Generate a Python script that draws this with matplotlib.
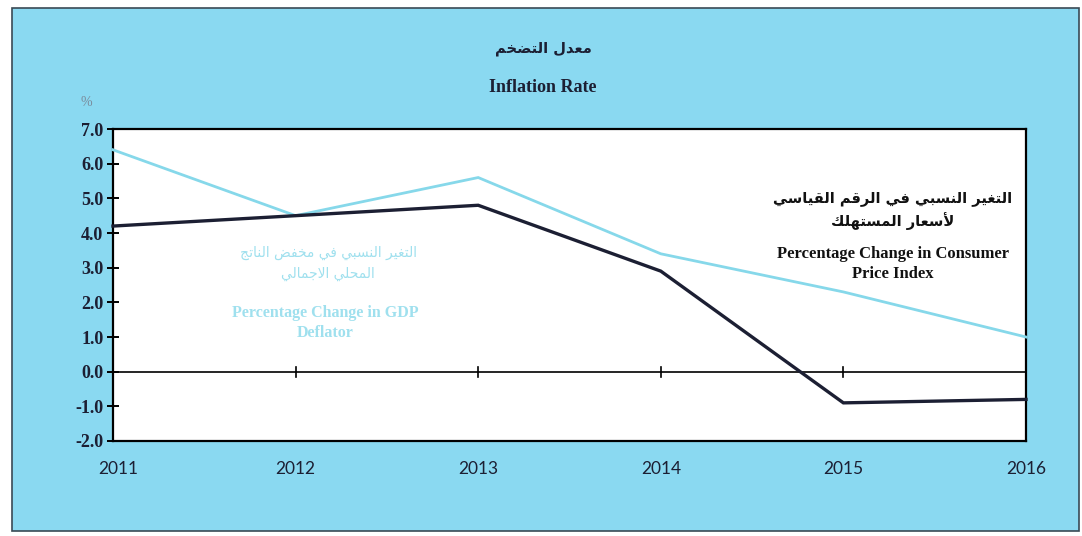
import matplotlib
matplotlib.use("Agg")
import matplotlib.pyplot as plt
from matplotlib.patches import Rectangle

# ---------------- data ----------------
years = [2011, 2012, 2013, 2014, 2015, 2016]
gdp_deflator = [6.4, 4.5, 5.6, 3.4, 2.3, 1.0]
cpi = [4.2, 4.5, 4.8, 2.9, -0.9, -0.8]
y_ticks = [-2.0, -1.0, 0.0, 1.0, 2.0, 3.0, 4.0, 5.0, 6.0, 7.0]
x_labels = ["2011", "2012", "2013", "2014", "2015", "2016"]

title_ar = "معدل التضخم"
title_en = "Inflation Rate"
gdp_label_ar = ["التغير النسبي في مخفض الناتج", "المحلي الاجمالي"]
gdp_label_en = "Percentage Change in GDP\nDeflator"
cpi_label_ar = ["التغير النسبي في الرقم القياسي", "لأسعار المستهلك"]
cpi_label_en = "Percentage Change in Consumer\nPrice Index"

# ------------- minimal Arabic shaping (presentation forms, visual order) -------------
DUAL = {
    'ب': 0xFE8F, 'ت': 0xFE95, 'ج': 0xFE9D, 'ح': 0xFEA1, 'خ': 0xFEA5,
    'س': 0xFEB1, 'ض': 0xFEBD, 'ع': 0xFEC9, 'غ': 0xFECD, 'ف': 0xFED1,
    'ق': 0xFED5, 'ك': 0xFED9, 'ل': 0xFEDD, 'م': 0xFEE1, 'ن': 0xFEE5,
    'ه': 0xFEE9, 'ي': 0xFEF1,
}
RIGHT = {'ا': 0xFE8D, 'أ': 0xFE83, 'د': 0xFEA9, 'ر': 0xFEAD}
LAMALEF = {'ا': (0xFEFB, 0xFEFC), 'أ': (0xFEF7, 0xFEF8)}


def is_letter(c):
    return c in DUAL or c in RIGHT


def shape(text):
    out = []
    chars = list(text)
    i = 0
    n = len(chars)
    while i < n:
        c = chars[i]
        prev = chars[i - 1] if i > 0 else ''
        joins_prev = prev in DUAL
        if c == 'ل' and i + 1 < n and chars[i + 1] in LAMALEF:
            iso, fin = LAMALEF[chars[i + 1]]
            out.append(chr(fin if joins_prev else iso))
            i += 2
            continue
        nxt = chars[i + 1] if i + 1 < n else ''
        if c in DUAL:
            base = DUAL[c]
            joins_next = is_letter(nxt)
            if joins_prev and joins_next:
                out.append(chr(base + 3))
            elif joins_prev:
                out.append(chr(base + 1))
            elif joins_next:
                out.append(chr(base + 2))
            else:
                out.append(chr(base))
        elif c in RIGHT:
            base = RIGHT[c]
            out.append(chr(base + 1 if joins_prev else base))
        else:
            out.append(c)
        i += 1
    return ''.join(reversed(out))


# ---------------- style ----------------
BG = '#8ad9f1'
NAVY = '#1c1f33'
LIGHT = '#86d8ea'
LIGHT_TXT = '#9fe0ee'
SERIF = ['Liberation Serif', 'DejaVu Serif']
AR = ['DejaVu Sans']

fig = plt.figure(figsize=(10.82, 5.36), dpi=100)
fig.patch.set_facecolor('white')
frame = Rectangle((12 / 1082, 1 - 531 / 536), (1079 - 12) / 1082, (531 - 8) / 536,
                  transform=fig.transFigure, facecolor=BG, edgecolor='#3a4a55',
                  linewidth=1.2, zorder=-10)
fig.patches.append(frame)

ax = fig.add_axes([113 / 1082, 1 - 441 / 536, (1026 - 113) / 1082, (441 - 129) / 536])
ax.set_zorder(1)
ax.set_facecolor('white')
ax.set_xlim(years[0], years[-1])
ax.set_ylim(y_ticks[0], y_ticks[-1])

ax.plot(years, gdp_deflator, color=LIGHT, lw=2.0, solid_joinstyle='miter', zorder=3, clip_on=False)
ax.plot(years, cpi, color=NAVY, lw=2.4, solid_joinstyle='miter', zorder=4, clip_on=False)
ax.axhline(0, color='black', lw=1.2, zorder=2)

for s in ax.spines.values():
    s.set_color('black')
    s.set_linewidth(1.6)

ax.set_yticks(y_ticks)
ax.set_yticklabels([f"{v:.1f}" for v in y_ticks], fontfamily=SERIF, fontweight='bold',
                   fontsize=13, color=NAVY)
ax.tick_params(axis='y', direction='inout', length=8, width=1.4, color='black', pad=3)
ax.set_xticks([])

# small ticks on the zero line
for yr in years[1:-1]:
    ax.plot([yr, yr], [-0.14, 0.14], color='black', lw=1.2, zorder=2)

# x labels
for yr, lab in zip(years, x_labels):
    ax.annotate(lab, xy=(yr, 0), xycoords=('data', 'axes fraction'), xytext=(4 if yr == years[0] else 0, -20),
                textcoords='offset points', ha='center', va='center', annotation_clip=False,
                fontfamily=['Lato', 'DejaVu Sans'], fontsize=12.5, color=NAVY)

ax.annotate('%', xy=(0, 1), xycoords='axes fraction', xytext=(-19, 19), textcoords='offset points',
            ha='center', va='center', fontsize=10, color='#7a8a9a', fontfamily=SERIF,
            annotation_clip=False)

# titles
fig.text(543 / 1082, 1 - 48 / 536, shape(title_ar), ha='center', va='center',
         fontfamily=AR, fontweight='bold', fontsize=10.5, color=NAVY)
fig.text(543 / 1082, 1 - 88 / 536, title_en, ha='center', va='center',
         fontfamily=SERIF, fontweight='bold', fontsize=13, color=NAVY)

# GDP deflator label
t_kw = dict(ha='center', va='center', zorder=5)
fig.text(328 / 1082, 1 - 253 / 536, shape(gdp_label_ar[0]), fontfamily=AR, fontsize=10,
         color=LIGHT_TXT, **t_kw)
fig.text(328 / 1082, 1 - 274 / 536, shape(gdp_label_ar[1]), fontfamily=AR, fontsize=10,
         color=LIGHT_TXT, **t_kw)
fig.text(325 / 1082, 1 - 323 / 536, gdp_label_en, linespacing=1.3, fontfamily=SERIF,
         fontweight='bold', fontsize=11.5, color=LIGHT_TXT, **t_kw)

# CPI label
fig.text(893 / 1082, 1 - 199 / 536, shape(cpi_label_ar[0]), fontfamily=AR, fontweight='bold',
         fontsize=10.5, color='#111111', **t_kw)
fig.text(893 / 1082, 1 - 221 / 536, shape(cpi_label_ar[1]), fontfamily=AR, fontweight='bold',
         fontsize=10.5, color='#111111', **t_kw)
fig.text(893 / 1082, 1 - 264 / 536, cpi_label_en, linespacing=1.3, fontfamily=SERIF,
         fontweight='bold', fontsize=12, color='#111111', **t_kw)

fig.savefig('out.png', dpi=100)
